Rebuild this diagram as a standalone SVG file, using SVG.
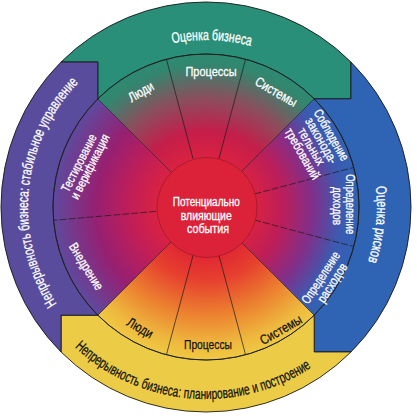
<svg xmlns="http://www.w3.org/2000/svg" width="417" height="416" viewBox="0 0 417 416">
<defs>
<style>
.t{font-family:"Liberation Sans Narrow","Liberation Sans",Arial,sans-serif;}
.w{fill:#ffffff;stroke:#ffffff;stroke-width:0.3;}
.k{fill:#111111;stroke:#111111;stroke-width:0.25;}
.band{stroke:#1a1a1a;stroke-width:0.9;stroke-linejoin:miter;}
.div{stroke:#1a1a1a;stroke-width:0.7;fill:none;}
.dash{stroke-dasharray:7 2;}
</style>
<radialGradient id="gTop" gradientUnits="userSpaceOnUse" cx="206" cy="207" r="153">
<stop offset="0.3" stop-color="#dc2240"/>
<stop offset="0.5" stop-color="#c41e4a"/>
<stop offset="0.72" stop-color="#88505e"/>
<stop offset="0.93" stop-color="#33866e"/>
<stop offset="1" stop-color="#2c8a72"/>
</radialGradient>
<radialGradient id="gRight" gradientUnits="userSpaceOnUse" cx="206" cy="207" r="153">
<stop offset="0.3" stop-color="#dc2240"/>
<stop offset="0.5" stop-color="#bc1e58"/>
<stop offset="0.7" stop-color="#80308a"/>
<stop offset="0.88" stop-color="#3c5ab0"/>
<stop offset="1" stop-color="#3262b4"/>
</radialGradient>
<radialGradient id="gLeft" gradientUnits="userSpaceOnUse" cx="206" cy="207" r="153">
<stop offset="0.3" stop-color="#dc2240"/>
<stop offset="0.5" stop-color="#c01e58"/>
<stop offset="0.72" stop-color="#962072"/>
<stop offset="1" stop-color="#5e4a9e"/>
</radialGradient>
<radialGradient id="gBottom" gradientUnits="userSpaceOnUse" cx="206" cy="207" r="153">
<stop offset="0.3" stop-color="#e02434"/>
<stop offset="0.48" stop-color="#e6402e"/>
<stop offset="0.7" stop-color="#ec8030"/>
<stop offset="0.9" stop-color="#eeb83e"/>
<stop offset="1" stop-color="#f0c842"/>
</radialGradient>
<path id="arcTop" d="M 39 207 A 167 167 0 0 1 373 207"/>
<path id="arcRight" d="M 206 36 A 171 171 0 0 1 206 378"/>
<path id="arcLeft" d="M 206 385 A 178 178 0 0 1 206 29"/>
<path id="arcBottom" d="M 14 207 A 192 192 0 0 0 398 207"/>
</defs>

<g id="inner-ring">
<path d="M 206 207 L 97.81 98.81 A 153 153 0 0 1 314.19 98.81 Z" fill="url(#gTop)"/>
<path d="M 206 207 L 314.19 98.81 A 153 153 0 0 1 314.19 315.19 Z" fill="url(#gRight)"/>
<path d="M 206 207 L 314.19 315.19 A 153 153 0 0 1 97.81 315.19 Z" fill="url(#gBottom)"/>
<path d="M 206 207 L 97.81 315.19 A 153 153 0 0 1 97.81 98.81 Z" fill="url(#gLeft)"/>
</g>

<g id="band-business-assessment">
<path class="band" fill="#2a8f78" d="M 61.04 62.04 A 205 205 0 0 1 350.96 62.04 L 350.96 98.81 L 314.19 98.81 A 153 153 0 0 0 97.81 98.81 L 97.81 62.04 Z"/>
<text class="t w" font-size="15"><textPath href="#arcTop" startOffset="268" text-anchor="middle" textLength="79" lengthAdjust="spacingAndGlyphs">Оценка бизнеса</textPath></text>
</g>
<g id="band-risk-assessment">
<path class="band" fill="#2f64b4" d="M 350.96 62.04 A 205 205 0 0 1 350.96 351.96 L 314.19 351.96 L 314.19 315.19 A 153 153 0 0 0 314.19 98.81 L 350.96 98.81 Z"/>
<text class="t w" font-size="15"><textPath href="#arcRight" startOffset="286" text-anchor="middle" textLength="76" lengthAdjust="spacingAndGlyphs">Оценка рисков</textPath></text>
</g>
<g id="band-planning">
<path class="band" fill="#eccc46" d="M 350.96 351.96 A 205 205 0 0 1 61.04 351.96 L 61.04 315.19 L 97.81 315.19 A 153 153 0 0 0 314.19 315.19 L 314.19 351.96 Z"/>
<text class="t k" font-size="15"><textPath href="#arcBottom" startOffset="285" text-anchor="middle" textLength="256" lengthAdjust="spacingAndGlyphs">Непрерывность бизнеса: планирование и построение</textPath></text>
</g>
<g id="band-management">
<path class="band" fill="#5a4c9c" d="M 61.04 351.96 A 205 205 0 0 1 61.04 62.04 L 97.81 62.04 L 97.81 98.81 A 153 153 0 0 0 97.81 315.19 L 61.04 315.19 Z"/>
<text class="t w" font-size="15"><textPath href="#arcLeft" startOffset="297" text-anchor="middle" textLength="240" lengthAdjust="spacingAndGlyphs">Непрерывность бизнеса: стабильное управление</textPath></text>
</g>

<g id="connectors">
<line class="div" x1="193.06" y1="158.70" x2="166.40" y2="59.21"/>
<line class="div" x1="218.94" y1="158.70" x2="245.60" y2="59.21"/>
<line class="div dash" x1="254.30" y1="194.06" x2="353.79" y2="167.40"/>
<line class="div dash" x1="254.30" y1="219.94" x2="353.79" y2="246.60"/>
<line class="div" x1="218.94" y1="255.30" x2="245.60" y2="354.79"/>
<line class="div" x1="193.06" y1="255.30" x2="166.40" y2="354.79"/>
<line class="div dash" x1="156.19" y1="211.36" x2="53.58" y2="220.33"/>
<line class="div" x1="206" y1="207" x2="97.81" y2="98.81"/>
<line class="div" x1="206" y1="207" x2="314.19" y2="98.81"/>
<line class="div" x1="206" y1="207" x2="314.19" y2="315.19"/>
<line class="div" x1="206" y1="207" x2="97.81" y2="315.19"/>
<circle class="div" cx="206" cy="207" r="153"/>
</g>

<g id="top-people"><text class="t w" font-size="13.5" text-anchor="middle" transform="translate(141 92) rotate(-30)" dy="0.32em" textLength="27" lengthAdjust="spacingAndGlyphs">Люди</text></g>
<g id="top-processes"><text class="t w" font-size="13.5" text-anchor="middle" transform="translate(211 72)" dy="0.32em" textLength="51" lengthAdjust="spacingAndGlyphs">Процессы</text></g>
<g id="top-systems"><text class="t w" font-size="13.5" text-anchor="middle" transform="translate(276 92) rotate(30)" dy="0.32em" textLength="46" lengthAdjust="spacingAndGlyphs">Системы</text></g>

<g id="bottom-people"><text class="t k" font-size="13.5" text-anchor="middle" transform="translate(140 328) rotate(30)" dy="0.32em" textLength="28" lengthAdjust="spacingAndGlyphs">Люди</text></g>
<g id="bottom-processes"><text class="t k" font-size="13.5" text-anchor="middle" transform="translate(208 345)" dy="0.32em" textLength="48" lengthAdjust="spacingAndGlyphs">Процессы</text></g>
<g id="bottom-systems"><text class="t k" font-size="13.5" text-anchor="middle" transform="translate(281 330) rotate(-30)" dy="0.32em" textLength="46" lengthAdjust="spacingAndGlyphs">Системы</text></g>

<g id="compliance">
<text class="t w" font-size="13" text-anchor="middle" transform="translate(317.05 145.35) rotate(60)">
<tspan x="0" y="-13.2" textLength="57" lengthAdjust="spacingAndGlyphs">Соблюдение</tspan>
<tspan x="0" y="-1.7" textLength="51" lengthAdjust="spacingAndGlyphs">законода-</tspan>
<tspan x="0" y="9.8" textLength="41" lengthAdjust="spacingAndGlyphs">тельных</tspan>
<tspan x="0" y="21.3" textLength="57" lengthAdjust="spacingAndGlyphs">требований</tspan>
</text>
</g>
<g id="income">
<text class="t w" font-size="13" text-anchor="middle" transform="translate(343.5 206) rotate(90)">
<tspan x="0" y="-2" textLength="60" lengthAdjust="spacingAndGlyphs">Определение</tspan>
<tspan x="0" y="10.5" textLength="38" lengthAdjust="spacingAndGlyphs">доходов</tspan>
</text>
</g>
<g id="expenses">
<text class="t w" font-size="13" text-anchor="middle" transform="translate(327.1 279.5) rotate(-57)">
<tspan x="0" y="-2" textLength="59" lengthAdjust="spacingAndGlyphs">Определение</tspan>
<tspan x="0" y="10.5" textLength="44" lengthAdjust="spacingAndGlyphs">расходов</tspan>
</text>
</g>
<g id="testing">
<text class="t w" font-size="13" text-anchor="middle" transform="translate(85 164) rotate(-63)">
<tspan x="0" y="-1.6" textLength="63" lengthAdjust="spacingAndGlyphs">Тестирование</tspan>
<tspan x="0" y="10" textLength="71" lengthAdjust="spacingAndGlyphs">и верификация</tspan>
</text>
</g>
<g id="implementation">
<text class="t w" font-size="13" text-anchor="middle" transform="translate(86 266.5) rotate(58)" dy="0.32em" textLength="53" lengthAdjust="spacingAndGlyphs">Внедрение</text>
</g>

<g id="center">
<circle cx="207" cy="207.5" r="50" fill="#dc2238" stroke="#8a1828" stroke-width="0.6"/>
<text class="t w" font-size="12.5" text-anchor="middle">
<tspan x="208" y="206" textLength="67" lengthAdjust="spacingAndGlyphs">Потенциально</tspan>
<tspan x="208" y="219.5" textLength="51" lengthAdjust="spacingAndGlyphs">влияющие</tspan>
<tspan x="208" y="233" textLength="42" lengthAdjust="spacingAndGlyphs">события</tspan>
</text>
</g>
</svg>
